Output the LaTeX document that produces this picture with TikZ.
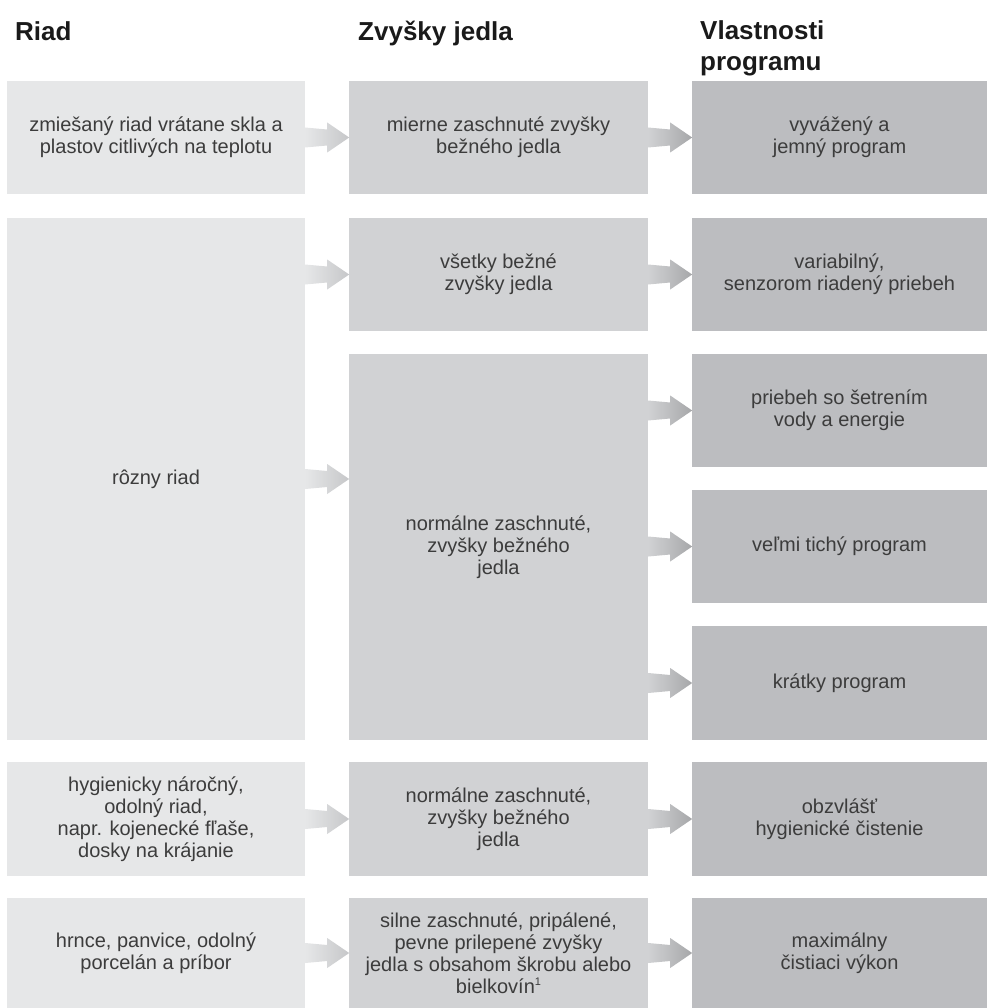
\documentclass[tikz,border=0pt]{standalone}
\usepackage{fontspec}
\setmainfont{Liberation Sans}
\usetikzlibrary{calc}
\definecolor{cA}{HTML}{E6E7E8}
\definecolor{cB}{HTML}{D1D2D4}
\definecolor{cC}{HTML}{BCBDC0}
\definecolor{aAend}{HTML}{C6C7C9}
\definecolor{aBend}{HTML}{A6A7A9}
\definecolor{txt}{HTML}{3C3C3C}
\definecolor{ttl}{HTML}{1A1A1A}
\tikzset{
  cell/.style={inner sep=0pt, align=center, text=txt,
    font=\fontsize{20}{22}\selectfont},
  colA/.style={cell, fill=cA, minimum width=298pt},
  colB/.style={cell, fill=cB, minimum width=299pt},
  colC/.style={cell, fill=cC, minimum width=295pt},
  heading/.style={inner sep=0pt, anchor=base west, align=left, text=ttl,
    font=\fontsize{26}{31}\selectfont\bfseries},
}
% #1 source node, #2 y reference node, #3 start colour, #4 end colour
\newcommand{\garr}[4]{%
  \path[left color=#3, right color=#4]
    ($(#1.east |- #2.center)+(0,-10)$) -- ++(22,2) -- ++(0,-7)
    -- ++(22,15) -- ++(-22,15) -- ++(0,-7) -- ++(-22,2) -- cycle;
}
\begin{document}
\begin{tikzpicture}[x=1pt,y=-1pt]
\useasboundingbox (0,0) rectangle (987,1008);
% headings
\node[heading] (h1) at (15,41) {Riad};
\node[heading] (h2) at (358,41) {Zvyšky jedla};
\node[heading] (h3) at (700,71) {Vlastnosti\\programu};
% column 1
\node[colA, minimum height=113pt] (a1) at (156,137.5) {zmiešaný riad vrátane skla a\\plastov citlivých na teplotu};
\node[colA, minimum height=522pt] (a2) at (156,479) {rôzny riad};
\node[colA, minimum height=114pt] (a6) at (156,819) {hygienicky náročný,\\odolný riad,\\napr. kojenecké fľaše,\\dosky na krájanie};
\node[colA, minimum height=110pt] (a7) at (156,953) {hrnce, panvice, odolný\\porcelán a príbor};
% column 2
\node[colB, minimum height=113pt] (b1) at (498.5,137.5) {mierne zaschnuté zvyšky\\bežného jedla};
\node[colB, minimum height=113pt] (b2) at (498.5,274.5) {všetky bežné\\zvyšky jedla};
\node[colB, minimum height=386pt] (b3) at (498.5,547) {normálne zaschnuté,\\zvyšky bežného\\jedla};
\node[colB, minimum height=114pt] (b6) at (498.5,819) {normálne zaschnuté,\\zvyšky bežného\\jedla};
\node[colB, minimum height=110pt] (b7) at (498.5,953) {silne zaschnuté, pripálené,\\pevne prilepené zvyšky\\jedla s obsahom škrobu alebo\\bielkovín\raisebox{0.75ex}{\fontsize{11}{11}\selectfont 1}};
% column 3
\node[colC, minimum height=113pt] (c1) at (839.5,137.5) {vyvážený a\\jemný program};
\node[colC, minimum height=113pt] (c2) at (839.5,274.5) {variabilný,\\senzorom riadený priebeh};
\node[colC, minimum height=113pt] (c3) at (839.5,410.5) {priebeh so šetrením\\vody a energie};
\node[colC, minimum height=113pt] (c4) at (839.5,546.5) {veľmi tichý program};
\node[colC, minimum height=114pt] (c5) at (839.5,683) {krátky program};
\node[colC, minimum height=114pt] (c6) at (839.5,819) {obzvlášť\\hygienické čistenie};
\node[colC, minimum height=110pt] (c7) at (839.5,953) {maximálny\\čistiaci výkon};
% arrows column 1 -> column 2
\garr{a1}{a1}{cA}{aAend}
\garr{a2}{b2}{cA}{aAend}
\garr{a2}{a2}{cA}{aAend}
\garr{a6}{a6}{cA}{aAend}
\garr{a7}{a7}{cA}{aAend}
% arrows column 2 -> column 3
\garr{b1}{c1}{cB}{aBend}
\garr{b2}{c2}{cB}{aBend}
\garr{b3}{c3}{cB}{aBend}
\garr{b3}{c4}{cB}{aBend}
\garr{b3}{c5}{cB}{aBend}
\garr{b6}{c6}{cB}{aBend}
\garr{b7}{c7}{cB}{aBend}
\end{tikzpicture}
\end{document}
